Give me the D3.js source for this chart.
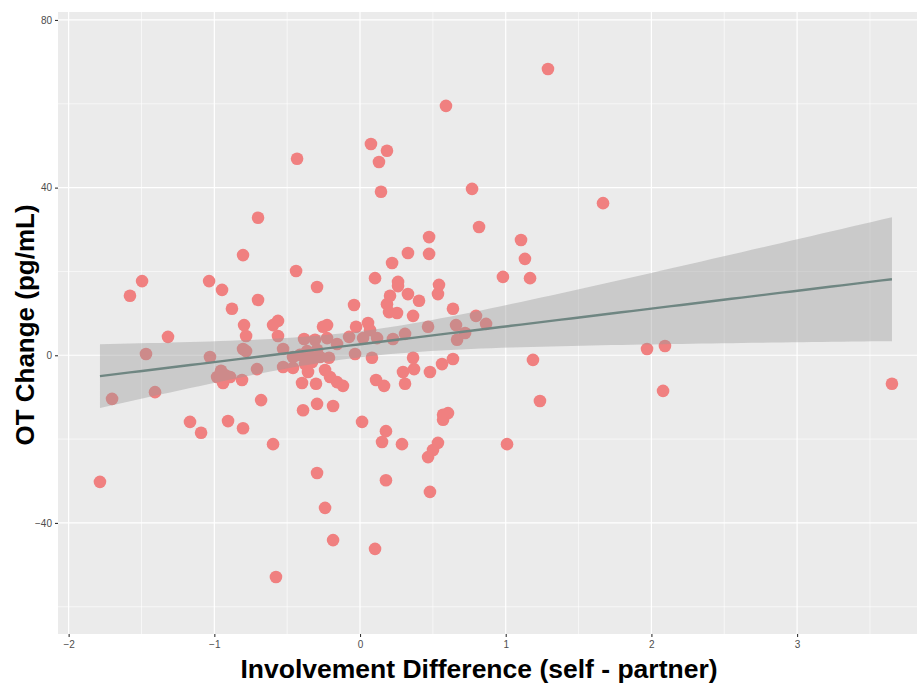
<!DOCTYPE html>
<html>
<head>
<meta charset="utf-8">
<script src="https://cdn.jsdelivr.net/npm/d3@7"></script>
<style>
  html, body { margin: 0; padding: 0; background: #ffffff; }
  svg { display: block; }
</style>
</head>
<body>
<svg id="chart" width="918" height="683"></svg>
<script>
// Involvement difference (self - partner)
const involvement = [
  -1.785, -1.702, -1.579, -1.496, -1.469, -1.407, -1.318, -1.167, -1.091, -1.036,
  -1.030, -0.947, -0.879, -0.954, -0.981, -0.927, -0.892, -0.940, -0.906, -0.803,
  -0.700, -0.700, -0.796, -0.782, -0.803, -0.782, -0.810, -0.803, -0.707, -0.679,
  -0.597, -0.597, -0.563, -0.563, -0.528, -0.528, -0.460, -0.577, -0.439, -0.432,
  -0.295, -0.384, -0.309, -0.226, -0.158, -0.254, -0.226, -0.075, -0.041, -0.027,
  -0.034, -0.460, -0.412, -0.364, -0.343, -0.295, -0.213, -0.377, -0.329, -0.275,
  -0.357, -0.398, -0.302, -0.240, -0.206, -0.158, -0.117, -0.391, -0.295, -0.185,
  -0.295, -0.240, -0.185, 0.075, 0.185, 0.130, 0.144, 0.103, 0.261, 0.261,
  0.220, 0.329, 0.474, 0.474, 0.542, 0.535, 0.206, 0.185, 0.199, 0.254,
  0.329, 0.405, 0.364, 0.638, 0.055, 0.069, 0.021, 0.117, 0.226, 0.309,
  0.467, 0.659, 0.721, 0.666, 0.082, 0.364, 0.295, 0.371, 0.480, 0.563,
  0.638, 0.110, 0.165, 0.309, 0.570, 0.604, 0.570, 0.014, 0.178, 0.151,
  0.288, 0.535, 0.501, 0.467, 0.178, 0.480, 0.103, 0.590, 1.290, 0.769,
  0.817, 1.105, 1.132, 0.981, 1.167, 0.796, 0.865, 1.668, 1.187, 1.235,
  1.009, 1.970, 2.093, 2.080, 3.651
];
// OT change (pg/mL)
const otChange = [
  -30.2, -10.4, 14.2, 17.7, 0.3, -8.8, 4.4, -15.9, -18.5, 17.7,
  -0.4, 15.6, 11.1, -3.7, -5.2, -4.7, -5.2, -6.6, -15.7, 23.9,
  32.8, 13.2, 7.2, 4.6, 1.5, 1.0, -5.9, -17.4, -3.3, -10.7,
  -21.2, 7.2, 8.2, 4.6, 1.5, -2.8, -3.0, -52.9, 20.1, 46.9,
  16.3, 3.9, 3.7, 4.1, 2.7, 6.8, 7.2, 4.4, 12.0, 6.8,
  0.3, -0.4, 0.1, 1.0, -0.6, 1.3, -0.6, -2.1, -1.6, -0.4,
  -4.0, -6.6, -6.8, -3.5, -5.2, -6.4, -7.3, -13.1, -11.6, -12.1,
  -28.1, -36.4, -44.1, 50.4, 48.8, 46.1, 39.0, 18.4, 17.5, 16.5,
  22.0, 24.4, 28.2, 24.2, 16.8, 14.6, 14.2, 12.2, 10.3, 10.1,
  14.6, 13.0, 9.4, 11.1, 7.7, 6.0, 4.1, 4.1, 3.9, 5.1,
  6.8, 7.2, 5.3, 3.7, -0.6, -0.6, -4.0, -3.3, -4.0, -2.1,
  -0.9, -5.9, -7.3, -6.8, -14.2, -13.8, -15.4, -15.9, -18.1, -20.7,
  -21.2, -20.9, -22.6, -24.3, -29.8, -32.6, -46.2, 59.5, 68.3, 39.7,
  30.6, 27.5, 23.0, 18.7, 18.4, 9.4, 7.5, 36.3, -1.1, -10.9,
  -21.2, 1.5, 2.2, -8.5, -6.8
];
const xTicks = [-2, -1, 0, 1, 2, 3];
const yTicks = [-40, 0, 40, 80];
const xMinor = [-1.5, -0.5, 0.5, 1.5, 2.5, 3.5];
const yMinor = [-60, -20, 20, 60];
const xTitle = "Involvement Difference (self - partner)";
const yTitle = "OT Change (pg/mL)";

const svg = d3.select("#chart");
const panel = { left: 58, right: 917, top: 12, bottom: 634 };

const x = d3.scaleLinear().domain([-2.073, 3.823]).range([panel.left, panel.right]);
const y = d3.scaleLinear().domain([-66.5, 81.9]).range([panel.bottom, panel.top]);

// panel background
svg.append("rect")
  .attr("x", panel.left).attr("y", panel.top)
  .attr("width", panel.right - panel.left).attr("height", panel.bottom - panel.top)
  .attr("fill", "#EBEBEB");

// grid
const grid = svg.append("g");
grid.selectAll(".vminor").data(xMinor).join("line")
  .attr("x1", d => x(d)).attr("x2", d => x(d))
  .attr("y1", panel.top).attr("y2", panel.bottom)
  .attr("stroke", "#ffffff").attr("stroke-width", 0.6);
grid.selectAll(".hminor").data(yMinor).join("line")
  .attr("y1", d => y(d)).attr("y2", d => y(d))
  .attr("x1", panel.left).attr("x2", panel.right)
  .attr("stroke", "#ffffff").attr("stroke-width", 0.6);
grid.selectAll(".vmajor").data(xTicks).join("line")
  .attr("x1", d => x(d)).attr("x2", d => x(d))
  .attr("y1", panel.top).attr("y2", panel.bottom)
  .attr("stroke", "#ffffff").attr("stroke-width", 1.2);
grid.selectAll(".hmajor").data(yTicks).join("line")
  .attr("y1", d => y(d)).attr("y2", d => y(d))
  .attr("x1", panel.left).attr("x2", panel.right)
  .attr("stroke", "#ffffff").attr("stroke-width", 1.2);

// points
const data = involvement.map((v, i) => ({ x: v, y: otChange[i] }));
svg.append("g").selectAll("circle").data(data).join("circle")
  .attr("cx", d => x(d.x)).attr("cy", d => y(d.y))
  .attr("r", 6.3).attr("fill", "#F08080");

// linear model with 95% CI
const n = data.length;
const mx = d3.mean(data, d => d.x), my = d3.mean(data, d => d.y);
const sxx = d3.sum(data, d => (d.x - mx) ** 2);
const sxy = d3.sum(data, d => (d.x - mx) * (d.y - my));
const b = sxy / sxx, a = my - b * mx;
const sse = d3.sum(data, d => (d.y - (a + b * d.x)) ** 2);
const s = Math.sqrt(sse / (n - 2));
const tq = 1.976;
const [xmin, xmax] = d3.extent(data, d => d.x);
const fit = d3.range(80).map(i => {
  const xv = xmin + (xmax - xmin) * i / 79;
  const yv = a + b * xv;
  const se = s * Math.sqrt(1 / n + (xv - mx) ** 2 / sxx);
  return { x: xv, y: yv, lo: yv - tq * se, hi: yv + tq * se };
});
svg.append("path").datum(fit)
  .attr("d", d3.area().x(d => x(d.x)).y0(d => y(d.lo)).y1(d => y(d.hi)))
  .attr("fill", "#999999").attr("fill-opacity", 0.4);
svg.append("path").datum(fit)
  .attr("d", d3.line().x(d => x(d.x)).y(d => y(d.y)))
  .attr("fill", "none").attr("stroke", "#6F8682").attr("stroke-width", 2.4);

// axes
const xAxis = svg.append("g").attr("transform", `translate(0,${panel.bottom})`)
  .call(d3.axisBottom(x).tickValues(xTicks).tickSize(3).tickPadding(4).tickFormat(d3.format("d")));
const yAxis = svg.append("g").attr("transform", `translate(${panel.left},0)`)
  .call(d3.axisLeft(y).tickValues(yTicks).tickSize(3).tickPadding(3).tickFormat(d3.format("d")));
[xAxis, yAxis].forEach(g => {
  g.select(".domain").remove();
  g.selectAll(".tick line").attr("stroke", "#333333").attr("stroke-width", 1.1);
  g.selectAll(".tick text").attr("fill", "#4D4D4D")
    .style("font-family", "'Liberation Sans', Arial, sans-serif").style("font-size", "10px");
});

// titles
svg.append("text")
  .attr("x", 479).attr("y", 678)
  .attr("text-anchor", "middle")
  .style("font-family", "'Liberation Sans', Arial, sans-serif")
  .style("font-weight", "bold").style("font-size", "26.5px")
  .attr("fill", "#000000")
  .text(xTitle);
svg.append("text")
  .attr("transform", `translate(34,${(panel.top + panel.bottom) / 2 + 2}) rotate(-90)`)
  .attr("text-anchor", "middle")
  .style("font-family", "'Liberation Sans', Arial, sans-serif")
  .style("font-weight", "bold").style("font-size", "26px")
  .attr("fill", "#000000")
  .text(yTitle);
</script>
</body>
</html>
